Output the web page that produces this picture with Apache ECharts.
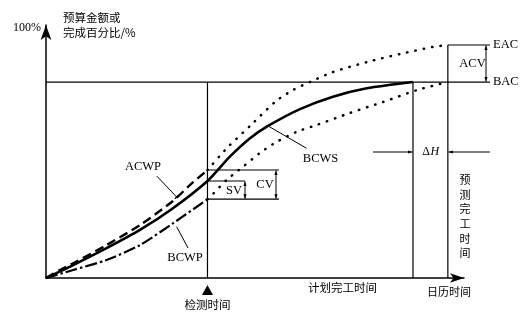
<!DOCTYPE html>
<html><head><meta charset="utf-8">
<script src="https://cdn.jsdelivr.net/npm/echarts@6/dist/echarts.min.js"></script>
<style>html,body{margin:0;padding:0;background:#fff}#c{width:526px;height:324px}</style>
</head><body><div id="c"></div>
<script>
// ---- data (time: planned finish = 100; money: BAC = 100) ----
const BCWS = [[0,0],[7.4,6.6],[16.5,15.2],[25.6,24.5],[34.6,35.6],[44,49.5],[50.1,61.9],[55.6,71.3],[60.5,77.6],[69.2,86.2],[78.2,92.5],[87.4,96.8],[100,100]];
const ACWP = [[0,0],[3.8,4.1],[7.4,7.5],[16.5,16.8],[25.6,27.0],[34.6,39.3],[39.2,47.4],[44,55.1]];
const BCWP = [[0,0],[7.4,4.1],[16.5,9.2],[25.6,16.8],[34.6,27.9],[44,40.2]];
const EAC_FORECAST = [[44,55.1],[49.3,66.3],[55.6,77.6],[62.7,90.3],[67.3,95.9],[71.9,100],[78.2,105.1],[87.5,110.2],[96.5,114.3],[105.4,117.9],[109.5,118.9]];
const BAC_FORECAST = [[44,40.2],[45.2,42.3],[49.2,50.0],[53.7,56.8],[58.3,63.8],[62.9,69.5],[68.3,74.6],[73.8,78.1],[82.8,84.2],[91.8,89.8],[101.1,95.9],[109.5,100]];
const checkTime = 44, planTime = 100, forecastTime = 109.5;
const bacValue = 100, eacValue = 118.9;
const vertLabel = ['预','测','完','工','时','间'];

const chart = echarts.init(document.getElementById('c'), null, {renderer:'canvas'});
const K = '#000';
const axisCommon = {
  type:'value', axisTick:{show:false}, axisLabel:{show:false}, splitLine:{show:false}
};
function curve(data, width, type, cap){
  return {type:'line', data, smooth:0.25, showSymbol:false, silent:true,
    clip:false, lineStyle:{color:K, width, type:type||'solid', cap:cap||'butt'}, z:5};
}
chart.setOption({
  animation:false,
  backgroundColor:'#fff',
  grid:{left:46, right:62, top:25, bottom:46},
  xAxis:Object.assign({min:0, max:113.9,
    axisLine:{show:true, symbol:['none','arrow'], symbolSize:[7,14], lineStyle:{color:K, width:1.5}}}, axisCommon),
  yAxis:Object.assign({min:0, max:129.1,
    axisLine:{show:true, symbol:['none','arrow'], symbolSize:[8,15], lineStyle:{color:K, width:1.5}}}, axisCommon),
  series:[
    curve(BCWS, 2.6),
    curve(ACWP, 2.4, [9,5]),
    curve(BCWP, 2.2, [12,3,2.5,3]),
    curve(EAC_FORECAST, 2.5, [0.5,8], 'round'),
    curve(BAC_FORECAST, 2.5, [0.5,8], 'round')
  ]
});

const P = (x,y)=>chart.convertToPixel({gridIndex:0},[x,y]);
const g = [];
function seg(a,b,w){ g.push({type:'line', silent:true, shape:{x1:a[0],y1:a[1],x2:b[0],y2:b[1]}, style:{stroke:K, lineWidth:w||1.2}, z:10}); }
function head(tip, d, len, hw){
  const bx = tip[0]-d[0]*len, by = tip[1]-d[1]*len, px=-d[1], py=d[0];
  g.push({type:'polygon', silent:true, shape:{points:[[tip[0],tip[1]],[bx+px*hw,by+py*hw],[bx-px*hw,by-py*hw]]}, style:{fill:K}, z:10});
}
function arrow(a,b,both){
  seg(a,b,1);
  const dx=b[0]-a[0], dy=b[1]-a[1], L=Math.hypot(dx,dy), d=[dx/L,dy/L];
  head(b,d,4.5,1.6); if(both) head(a,[-d[0],-d[1]],4.5,1.6);
}
function txt(s,x,y,font,align,style){
  g.push({type:'text', silent:true, x, y, z:10, style:Object.assign({text:s, font, fill:K,
    align:align||'center', verticalAlign:'middle', textAlign:align||'center', textVerticalAlign:'middle'}, style||{})});
}
const SERIF = '"Liberation Serif", "Times New Roman", serif';
const CJK = '"Noto Sans CJK SC", sans-serif';

const o = P(0,0);
const bacY = P(0,bacValue)[1], eacY = P(0,eacValue)[1];
const xC = P(checkTime,0)[0], xP = P(planTime,0)[0], xF = P(forecastTime,0)[0];
// reference lines
seg([o[0],bacY],[490,bacY]);
seg([xC,bacY],[xC,o[1]]);
seg([xP,bacY],[xP,o[1]]);
seg([xF,eacY],[xF,o[1]]);
seg([xF,eacY],[490,eacY]);
arrow([486,eacY+0.5],[486,bacY-0.5],true);
// CV / SV
const yA = P(0,ACWP[ACWP.length-1][1])[1];
const yS = P(0,BCWS[5][1])[1];
const yB = P(0,BCWP[BCWP.length-1][1])[1];
seg([xC,yA],[279,yA]); seg([xC,yB],[279,yB]); seg([xC,yS],[245,yS]);
arrow([276,yA+0.5],[276,yB-0.5],true);
arrow([245,yS+0.5],[245,yB-0.5],true);
// Delta H
arrow([373,152],[xP-0.5,152]);
arrow([490,152],[xF+0.5,152]);
// leaders
const a1 = P(30.2,52.0), a2 = P(35.6,41.3);
seg(a1,a2,1);
{ const dx=a2[0]-a1[0], dy=a2[1]-a1[1], L=Math.hypot(dx,dy), px=-dy/L, py=dx/L;
  seg([a2[0]+px*2.5,a2[1]+py*2.5],[a2[0]-px*2.5,a2[1]-py*2.5],1.3); }
seg(P(38.7,15.3),P(35.6,26.2),1);
seg(P(60.5,77.6),P(71.0,66.2),1);
// triangle marker
g.push({type:'polygon', silent:true, shape:{points:[[xC,285],[xC-5.5,295],[xC+5.5,295]]}, style:{fill:K}, z:10});
// texts
txt('100%', 27, 28, '12px '+SERIF);
txt('预算金额或', 63, 18, '11.5px '+CJK, 'left');
txt('完成百分比/%', 63, 33, '11.5px '+CJK, 'left');
txt('ACWP', 143, 167, '12.5px '+SERIF);
txt('BCWP', 185, 258, '12.5px '+SERIF);
txt('BCWS', 320.5, 158.5, '12.5px '+SERIF);
txt('SV', 234, 191, '12.5px '+SERIF);
txt('CV', 265, 185, '12.5px '+SERIF);
txt('ACV', 472.5, 64, '12.5px '+SERIF);
txt('EAC', 493, eacY, '12.5px '+SERIF, 'left');
txt('BAC', 493, bacY, '12.5px '+SERIF, 'left');
txt('Δ', 430, 152, '12px '+SERIF, 'right');
txt('H', 430.5, 152, 'italic 12px '+SERIF, 'left');
vertLabel.forEach((ch,i)=>txt(ch, 465, 180 + i*14.6, '11px '+CJK));
txt('日历时间', 449, 292, '11px '+CJK);
txt('计划完工时间', 342.5, 288, '11.5px '+CJK);
txt('检测时间', 207.5, 305, '11.5px '+CJK);

chart.setOption({graphic: g});
</script></body></html>
